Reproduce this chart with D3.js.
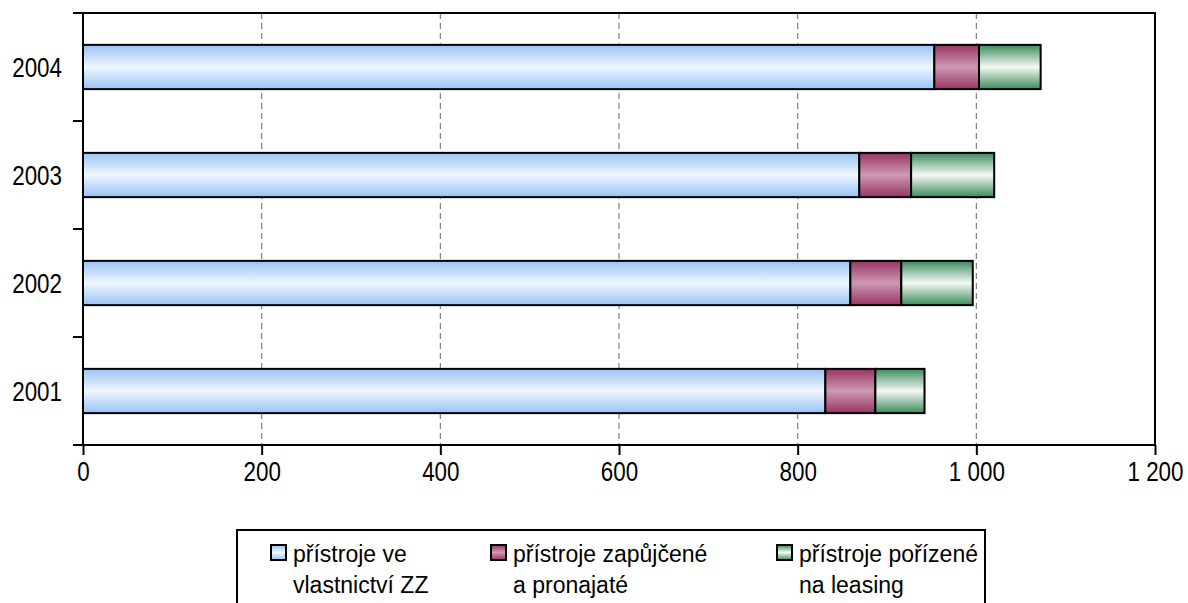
<!DOCTYPE html>
<html lang="cs">
<head>
<meta charset="UTF-8">
<title>Přístroje</title>
<script src="https://cdn.jsdelivr.net/npm/d3@7/dist/d3.min.js"></script>
<style>
  body { margin: 0; background: #fff; overflow: hidden; }
  text { font-family: "Liberation Sans", Arial, sans-serif; fill: #000; }
</style>
</head>
<body>
<svg width="1188" height="603" id="mainsvg"></svg>
<script>
  // data
  const years = ['2004', '2003', '2002', '2001']
  const vlastni = [953, 869, 859, 831]     // přístroje ve vlastnictví ZZ
  const zapujcene = [50, 58, 57, 56]       // přístroje zapůjčené a pronajaté
  const leasing = [69, 93, 80, 55]         // přístroje pořízené na leasing
  const seriesNames = [['přístroje ve', 'vlastnictví ZZ'], ['přístroje zapůjčené', 'a pronajaté'], ['přístroje pořízené', 'na leasing']]
  const xTicks = [0, 200, 400, 600, 800, 1000, 1200]

  const colors = [
    { id: 'gBlue', edge: '#98c2f4', mid: '#f0f7ff' },
    { id: 'gRed', edge: '#983564', mid: '#cd98b2' },
    { id: 'gGreen', edge: '#3c8b5b', mid: '#f5f9f5' }
  ]

  const svg = d3.select('#mainsvg')
  const margin = { top: 13, right: 33, bottom: 158, left: 83 }
  const innerWidth = 1188 - margin.left - margin.right
  const innerHeight = 603 - margin.top - margin.bottom

  const defs = svg.append('defs')
  colors.forEach(c => {
    const lg = defs.append('linearGradient').attr('id', c.id)
      .attr('x1', 0).attr('y1', 0).attr('x2', 0).attr('y2', 1)
    lg.append('stop').attr('offset', '0%').attr('stop-color', c.edge)
    lg.append('stop').attr('offset', '50%').attr('stop-color', c.mid)
    lg.append('stop').attr('offset', '100%').attr('stop-color', c.edge)
  })

  const g = svg.append('g').attr('transform', `translate(${margin.left},${margin.top})`)

  const xScale = d3.scaleLinear().domain([0, 1200]).range([0, innerWidth])
  const yScale = d3.scaleBand().domain(years).range([0, innerHeight])
    .paddingInner(0.59).paddingOuter(0.295)

  const cz = d3.formatLocale({ decimal: ',', thousands: '\u00a0', grouping: [3], currency: ['', ' Kč'] })
  const fmt = cz.format(',d')

  // squeeze a text horizontally (the original uses a narrow face)
  function narrow(sel) {
    sel.each(function () {
      const w = this.getComputedTextLength()
      d3.select(this).attr('textLength', w * 0.8).attr('lengthAdjust', 'spacingAndGlyphs')
    })
  }

  // grid
  g.selectAll('.grid').data(xTicks.slice(1, -1)).enter().append('line')
    .attr('x1', d => xScale(d)).attr('x2', d => xScale(d))
    .attr('y1', 0).attr('y2', innerHeight)
    .attr('stroke', '#808080').attr('stroke-width', 1.2).attr('stroke-dasharray', '6,4')

  // stacked data
  const rows = years.map((y, i) => ({ year: y, values: [vlastni[i], zapujcene[i], leasing[i]] }))
  const segs = []
  rows.forEach(r => {
    let acc = 0
    r.values.forEach((v, k) => {
      segs.push({ year: r.year, k: k, x0: acc, x1: acc + v })
      acc += v
    })
  })

  g.selectAll('.seg').data(segs).enter().append('rect')
    .attr('class', 'seg')
    .attr('x', d => xScale(d.x0))
    .attr('width', d => xScale(d.x1) - xScale(d.x0))
    .attr('y', d => yScale(d.year))
    .attr('height', yScale.bandwidth())
    .attr('fill', d => `url(#${colors[d.k].id})`)
    .attr('stroke', '#000').attr('stroke-width', 2)

  // frame
  g.append('rect').attr('width', innerWidth).attr('height', innerHeight)
    .attr('fill', 'none').attr('stroke', '#000').attr('stroke-width', 2)

  // y axis: ticks at band boundaries
  const yEdges = d3.range(years.length + 1).map(i => i * innerHeight / years.length)
  g.selectAll('.ytick').data(yEdges).enter().append('line')
    .attr('x1', -10).attr('x2', 0).attr('y1', d => d).attr('y2', d => d)
    .attr('stroke', '#000').attr('stroke-width', 2)
  g.selectAll('.ylab').data(years).enter().append('text')
    .attr('x', -21).attr('y', d => yScale(d) + yScale.bandwidth() / 2)
    .attr('dy', '0.36em').attr('text-anchor', 'end')
    .attr('font-size', 28).text(d => d)
    .call(narrow)

  // x axis
  const xAxis = d3.axisBottom(xScale).tickValues(xTicks).tickSize(10).tickPadding(6).tickFormat(fmt)
  const xg = g.append('g').attr('transform', `translate(0,${innerHeight})`).call(xAxis)
  xg.select('.domain').remove()
  xg.selectAll('line').attr('stroke', '#000').attr('stroke-width', 2)
  xg.selectAll('text').attr('font-size', 28).attr('font-family', null).call(narrow)

  // legend (box runs past the bottom edge, as in the original)
  const leg = svg.append('g').attr('transform', 'translate(237,530)')
  leg.append('rect').attr('width', 748).attr('height', 80)
    .attr('fill', '#fff').attr('stroke', '#000').attr('stroke-width', 2)
  const legX = [34, 254, 540]
  seriesNames.forEach((names, k) => {
    const e = leg.append('g').attr('transform', `translate(${legX[k]},0)`)
    e.append('rect').attr('x', 0).attr('y', 15).attr('width', 15).attr('height', 15)
      .attr('fill', `url(#${colors[k].id})`).attr('stroke', '#000').attr('stroke-width', 2)
    e.selectAll('text').data(names).enter().append('text')
      .attr('x', 22).attr('y', (d, i) => 32 + i * 31)
      .attr('font-size', 23).text(d => d)
  })
</script>
</body>
</html>
